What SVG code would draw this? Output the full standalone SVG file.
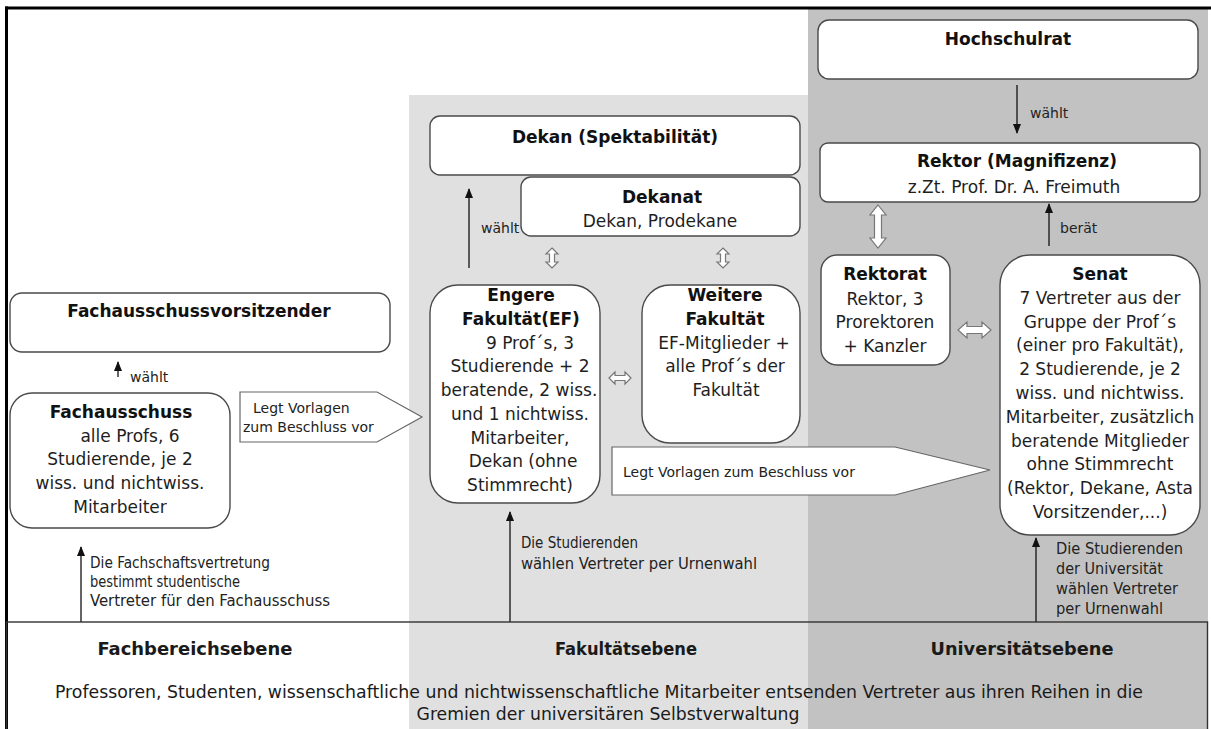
<svg xmlns="http://www.w3.org/2000/svg" width="1211" height="729" viewBox="0 0 1211 729">
<defs>
<style>
.box{fill:#fff;stroke:#4a4a4a;stroke-width:1.4}
.t{font-family:"DejaVu Sans","Verdana",sans-serif;font-size:17px;fill:#1e1e1e;text-anchor:middle}
.b{font-weight:bold;fill:#111}
.s{font-family:"DejaVu Sans","Verdana",sans-serif;font-size:14px;fill:#222}
.c{font-family:"DejaVu Sans Condensed","DejaVu Sans",sans-serif;font-stretch:condensed;font-size:16px;fill:#222}
.bt{font-family:"DejaVu Sans Condensed","DejaVu Sans",sans-serif;font-stretch:condensed;font-size:18px;fill:#1a1a1a;text-anchor:middle}
.ln{stroke:#111;stroke-width:1.3;fill:none;marker-end:url(#ah)}
.hol{fill:#fff;stroke:#777;stroke-width:1.2}
.pent{fill:#fff;stroke:#666;stroke-width:1.2}
</style>
<marker id="ah" markerUnits="userSpaceOnUse" markerWidth="10" markerHeight="10" viewBox="0 0 10 10" refX="9" refY="5" orient="auto">
<path d="M0,1 L10,5 L0,9 Z" fill="#111"/>
</marker>
</defs>

<!-- background regions -->
<rect x="0" y="0" width="1211" height="729" fill="#fff"/>
<rect x="409" y="95" width="400" height="640" fill="#e0e0e0"/>
<rect x="808" y="9" width="400" height="720" fill="#c2c2c2"/>
<rect x="5" y="6.5" width="1206" height="3" fill="#000"/>
<rect x="5" y="6.5" width="3" height="723" fill="#000"/>

<!-- connectors -->
<g id="connectors">
<line class="ln" x1="1017" y1="85" x2="1017" y2="133"/>
<line class="ln" x1="1049" y1="246" x2="1049" y2="204"/>
<line class="ln" x1="469" y1="268" x2="469" y2="189"/>
<line class="ln" x1="118" y1="377" x2="118" y2="362"/>
<line class="ln" x1="81" y1="622" x2="81" y2="547"/>
<line class="ln" x1="510" y1="622" x2="510" y2="512"/>
<line class="ln" x1="1036" y1="622" x2="1036" y2="538"/>
<path class="hol" d="M878,205 L886,215 L881.5,215 L881.5,238 L886,238 L878,248 L870,238 L874.5,238 L874.5,215 L870,215 Z"/>
<path class="hol" d="M958,330 L967,322 L967,326.5 L982,326.5 L982,322 L991,330 L982,338 L982,333.5 L967,333.5 L967,338 Z"/>
<path class="hol" d="M552,248 L558,254 L554.5,254 L554.5,262 L558,262 L552,268 L546,262 L549.5,262 L549.5,254 L546,254 Z"/>
<path class="hol" d="M723,248 L729,254 L725.5,254 L725.5,262 L729,262 L723,268 L717,262 L720.5,262 L720.5,254 L717,254 Z"/>
<path class="hol" d="M609,378 L615,372 L615,375.5 L625,375.5 L625,372 L631,378 L625,384 L625,380.5 L615,380.5 L615,384 Z"/>
<text class="s" x="1030" y="118">wählt</text>
<text class="s" x="1060" y="233">berät</text>
<text class="s" x="481" y="233" font-size="13.5">wählt</text>
<text class="s" x="130" y="382" font-size="13.5">wählt</text>
<g class="c">
<text x="90" y="568" textLength="180" lengthAdjust="spacingAndGlyphs">Die Fachschaftsvertretung</text>
<text x="90" y="587" textLength="150" lengthAdjust="spacingAndGlyphs">bestimmt studentische</text>
<text x="90" y="606" textLength="240" lengthAdjust="spacingAndGlyphs">Vertreter für den Fachausschuss</text>
<text x="521" y="548" textLength="117" lengthAdjust="spacingAndGlyphs">Die Studierenden</text>
<text x="521" y="569" textLength="236" lengthAdjust="spacingAndGlyphs">wählen Vertreter per Urnenwahl</text>
<text x="1056" y="554" textLength="127" lengthAdjust="spacingAndGlyphs">Die Studierenden</text>
<text x="1056" y="574" textLength="107" lengthAdjust="spacingAndGlyphs">der Universität</text>
<text x="1056" y="594" textLength="122" lengthAdjust="spacingAndGlyphs">wählen Vertreter</text>
<text x="1056" y="614" textLength="107" lengthAdjust="spacingAndGlyphs">per Urnenwahl</text>
</g>
</g>

<!-- pentagon arrows -->
<g id="vorlage1">
<path class="pent" d="M240,392 L377,392 L422,417 L377,442 L240,442 Z"/>
<text class="s" x="253" y="413" font-size="14.5">Legt Vorlagen</text>
<text class="s" x="243" y="432" font-size="14.5">zum Beschluss vor</text>
</g>
<g id="vorlage2">
<path class="pent" d="M612,447 L895,447 L990,470 L895,495 L612,495 Z"/>
<text class="s" x="623" y="477" font-size="14.5">Legt Vorlagen zum Beschluss vor</text>
</g>

<g id="hochschulrat">
<rect class="box" x="818" y="20" width="380" height="59" rx="11"/>
<text class="t b" x="1008" y="45">Hochschulrat</text>
</g>
<g id="rektor">
<rect class="box" x="820" y="143" width="380" height="59" rx="8"/>
<text class="t b" x="1017" y="167">Rektor (Magnifizenz)</text>
<text class="t" x="1014" y="193">z.Zt. Prof. Dr. A. Freimuth</text>
</g>
<g id="rektorat">
<rect class="box" x="821" y="255" width="129" height="110" rx="16"/>
<text class="t b" x="885" y="280">Rektorat</text>
<text class="t" x="885" y="305">Rektor, 3</text>
<text class="t" x="885" y="328">Prorektoren</text>
<text class="t" x="885" y="352">+ Kanzler</text>
</g>
<g id="senat">
<rect class="box" x="1000" y="255" width="200" height="280" rx="30"/>
<text class="t b" x="1100" y="280">Senat</text>
<text class="t" x="1100" y="303.8">7 Vertreter aus der</text>
<text class="t" x="1100" y="327.6">Gruppe der Prof´s</text>
<text class="t" x="1100" y="351.4">(einer pro Fakultät),</text>
<text class="t" x="1100" y="375.2">2 Studierende, je 2</text>
<text class="t" x="1100" y="399">wiss. und nichtwiss.</text>
<text class="t" x="1100" y="422.8">Mitarbeiter, zusätzlich</text>
<text class="t" x="1100" y="446.6">beratende Mitglieder</text>
<text class="t" x="1100" y="470.4">ohne Stimmrecht</text>
<text class="t" x="1100" y="494.2">(Rektor, Dekane, Asta</text>
<text class="t" x="1100" y="518">Vorsitzender,...)</text>
</g>
<g id="dekan">
<rect class="box" x="430" y="116" width="370" height="59" rx="10"/>
<text class="t b" x="615" y="143">Dekan (Spektabilität)</text>
</g>
<g id="dekanat">
<rect class="box" x="521" y="177" width="279" height="59" rx="10"/>
<text class="t b" x="662" y="203">Dekanat</text>
<text class="t" x="660" y="227">Dekan, Prodekane</text>
</g>
<g id="engere-fakultaet">
<rect class="box" x="430" y="285" width="170" height="218" rx="28"/>
<text class="t b" x="521" y="301">Engere</text>
<text class="t b" x="521" y="324.8">Fakultät(EF)</text>
<text class="t" x="530" y="348.5">9 Prof´s, 3</text>
<text class="t" x="520" y="372.3">Studierende + 2</text>
<text class="t" x="519" y="396">beratende, 2 wiss.</text>
<text class="t" x="520" y="419.8">und 1 nichtwiss.</text>
<text class="t" x="520" y="443.5">Mitarbeiter,</text>
<text class="t" x="523" y="467.3">Dekan (ohne</text>
<text class="t" x="520" y="491">Stimmrecht)</text>
</g>
<g id="weitere-fakultaet">
<rect class="box" x="642" y="285" width="158" height="158" rx="28"/>
<text class="t b" x="725" y="301">Weitere</text>
<text class="t b" x="725" y="324.8">Fakultät</text>
<text class="t" x="724" y="348.5">EF-Mitglieder +</text>
<text class="t" x="725" y="372.3">alle Prof´s der</text>
<text class="t" x="726" y="396">Fakultät</text>
</g>
<g id="fachausschussvorsitzender">
<rect class="box" x="10" y="293" width="380" height="59" rx="12"/>
<text class="t b" x="199" y="317">Fachausschussvorsitzender</text>
</g>
<g id="fachausschuss">
<rect class="box" x="10" y="393" width="220" height="135" rx="22"/>
<text class="t b" x="121" y="418">Fachausschuss</text>
<text class="t" x="130" y="441.7">alle Profs, 6</text>
<text class="t" x="120" y="465.4">Studierende, je 2</text>
<text class="t" x="120" y="489">wiss. und nichtwiss.</text>
<text class="t" x="120" y="512.7">Mitarbeiter</text>
</g>

<g id="ebenen">
<rect x="6.5" y="622" width="1201" height="112" fill="none" stroke="#333" stroke-width="1.4"/>
<text class="bt" x="195" y="655" font-weight="bold" textLength="195" lengthAdjust="spacingAndGlyphs">Fachbereichsebene</text>
<text class="bt" x="626" y="655" font-weight="bold" textLength="142" lengthAdjust="spacingAndGlyphs">Fakultätsebene</text>
<text class="bt" x="1022" y="655" font-weight="bold" textLength="183" lengthAdjust="spacingAndGlyphs">Universitätsebene</text>
<text class="bt" x="599" y="698" textLength="1088" lengthAdjust="spacingAndGlyphs">Professoren, Studenten, wissenschaftliche und nichtwissenschaftliche Mitarbeiter entsenden Vertreter aus ihren Reihen in die</text>
<text class="bt" x="608" y="720" textLength="383" lengthAdjust="spacingAndGlyphs">Gremien der universitären Selbstverwaltung</text>
</g>
</svg>
